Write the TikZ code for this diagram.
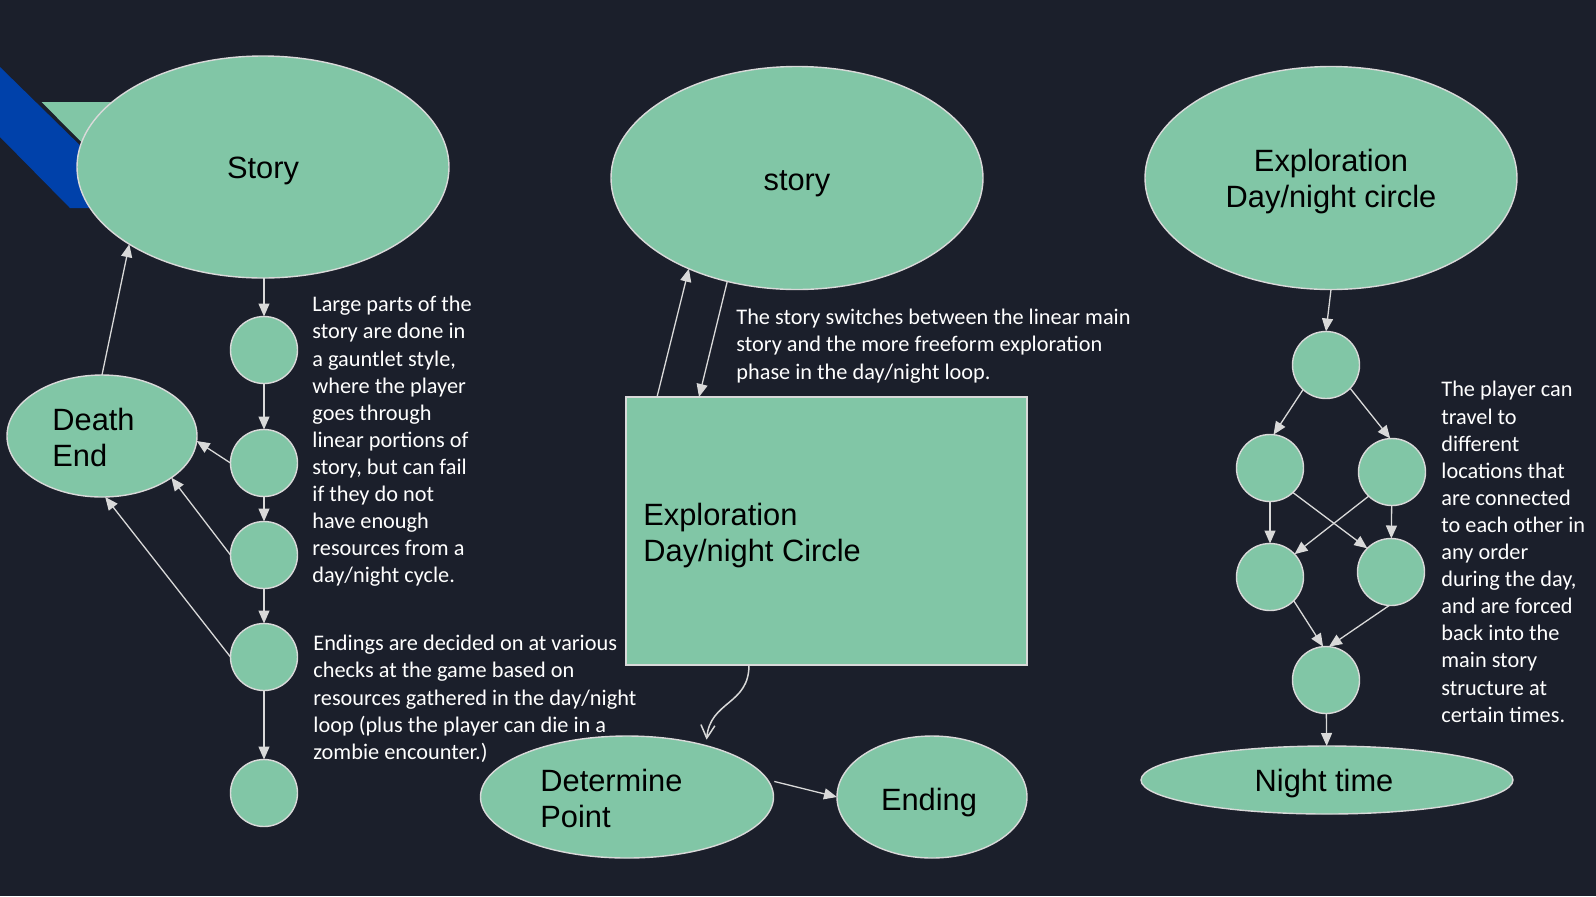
\documentclass[tikz,border=0pt]{standalone}
\usepackage{fontspec}
\setmainfont{Liberation Sans}
\newfontfamily\calib{Carlito}
\usetikzlibrary{arrows.meta,calc,shapes.geometric}
\definecolor{bg}{HTML}{1B1F2B}
\definecolor{nodegreen}{HTML}{81C6A6}
\definecolor{edgegray}{HTML}{D9D9D9}
\definecolor{bandblue}{HTML}{0041AA}
\begin{document}
\begin{tikzpicture}[x=0.5pt,y=-0.5pt,
  shapeline/.style={draw=edgegray, line width=0.7pt, fill=nodegreen},
  oval/.style={shapeline, ellipse, inner sep=0pt, outer sep=0pt},
  smallc/.style={shapeline, circle, minimum size=33.5pt, inner sep=0pt, outer sep=0pt},
  ctext/.style={text=black, font=\fontsize{15.4}{18}\selectfont, align=center, inner sep=0pt},
  lbl/.style={text=black, font=\fontsize{15.4}{18}\selectfont, align=left, anchor=west, inner sep=0pt},
  memo/.style={text=white, font=\calib\fontsize{11.15}{13.55}\selectfont, align=left, anchor=north west, inner sep=0pt},
  conn/.style={draw=edgegray, line width=0.65pt, -{Triangle[length=6.5pt,width=5.5pt]}},
  curvy/.style={draw=edgegray, line width=0.75pt, -{Straight Barb[length=6.5pt,width=7pt]}}]
\fill[bg] (0,0) rectangle (1596,896);
\useasboundingbox (0,0) rectangle (1596,896);

% decorative band
\fill[bandblue] (0,67) -- (144,208) -- (70,208) -- (0,137) -- cycle;
\fill[nodegreen] (40,102) -- (200,102) -- (200,258) -- cycle;
\draw[bg, line width=1pt] (40,102) -- (144,207);

% left column
\node[oval, minimum width=186pt, minimum height=111pt] (story) at (263,167) {};
\node[ctext] (storytxt) at ($(story.center)+(0,4)$) {Story};
\node[oval, minimum width=95pt, minimum height=61pt] (death) at (102,436) {};
\node[lbl] (deathtxt) at (52,437) {Death\\End};
\node[smallc] (c1) at (264,350) {};
\node[smallc] (c2) at (264,463) {};
\node[smallc] (c3) at (264,555) {};
\node[smallc] (c4) at (264,657) {};
\node[smallc] (c5) at (264,793) {};

\node[memo] (note1) at (312,296) {Large parts of the\\story are done in\\a gauntlet style,\\where the player\\goes through\\linear portions of\\story, but can fail\\if they do not\\have enough\\resources from a\\day/night cycle.};
\node[memo] (note2) at (313,635) {Endings are decided on at various\\checks at the game based on\\resources gathered in the day/night\\loop (plus the player can die in a\\zombie encounter.)};

\draw[conn] (death.north) -- (story.210);
\draw[conn] (c1.north |- story.south) -- (c1.north);
\draw[conn] (c1) -- (c2);
\draw[conn] (c2) -- (c3);
\draw[conn] (c3) -- (c4);
\draw[conn] (c4) -- (c5);
\draw[conn] (c2.west) -- (death.-3);
\draw[conn] (c3.west) -- (death.-31);
\draw[conn] (c4.west) -- (death.-87);

% middle column
\node[oval, minimum width=186pt, minimum height=111.5pt] (story2) at (797,178) {};
\node[ctext] (story2txt) at ($(story2.center)+(0,6)$) {story};
\node[shapeline, rectangle, minimum width=200.5pt, minimum height=134pt, inner sep=0pt, outer sep=0pt] (rect) at (826.5,531) {};
\node[lbl] (recttxt) at (643,536) {Exploration\\Day/night Circle};
\node[oval, minimum width=146.5pt, minimum height=61pt] (det) at (627,797) {};
\node[lbl] (dettxt) at (540,798) {Determine\\Point};
\node[oval, minimum width=95pt, minimum height=61pt] (ending) at (932,797) {};
\node[ctext] (endingtxt) at ($(ending.center)+(-3,6)$) {Ending};

\node[memo] (note3) at (736,309) {The story switches between the linear main\\story and the more freeform exploration\\phase in the day/night loop.};

\draw[conn] ($(rect.north west)+(31,0)$) -- (story2.220);
\draw[conn] (story2.236) -- ($(rect.north west)+(73,0)$);
\draw[curvy, shorten >=3pt] ($(rect.south west)+(123,0)$) .. controls +(0,40) and +(4,-45) .. (det.33);
\draw[conn, shorten <=3.5pt] (det.7) -- (ending.180);

% right column
\node[oval, minimum width=186pt, minimum height=111.5pt] (expl) at (1331,178) {};
\node[ctext] (expltxt) at ($(expl.center)+(0,4)$) {Exploration\\Day/night circle};
\node[smallc] (r0) at (1326,365) {};
\node[smallc] (rL1) at (1270,468) {};
\node[smallc] (rR1) at (1392,472) {};
\node[smallc] (rL2) at (1270,577) {};
\node[smallc] (rR2) at (1391,572) {};
\node[smallc] (rB) at (1326,680) {};
\node[oval, minimum width=186pt, minimum height=34pt] (night) at (1327,780) {};
\node[ctext] (nighttxt) at ($(night.center)+(-3,4)$) {Night time};

\node[memo] (note4) at (1441,381) {The player can\\travel to\\different\\locations that\\are connected\\to each other in\\any order\\during the day,\\and are forced\\back into the\\main story\\structure at\\certain times.};

\draw[conn] (expl.south) -- (r0.north);
\draw[conn] (r0.227) -- (rL1.84);
\draw[conn] (r0.-44) -- (rR1.93);
\draw[conn] (rL1) -- (rL2);
\draw[conn] (rR1) -- (rR2);
\draw[conn] (rL1.-47) -- (rR2.135);
\draw[conn] (rR1.226) -- (rL2.43);
\draw[conn] (rL2.-45) -- (rB.95);
\draw[conn] (rR2.-93) -- (rB.85);
\draw[conn] (rB) -- (night);
\end{tikzpicture}
\end{document}
